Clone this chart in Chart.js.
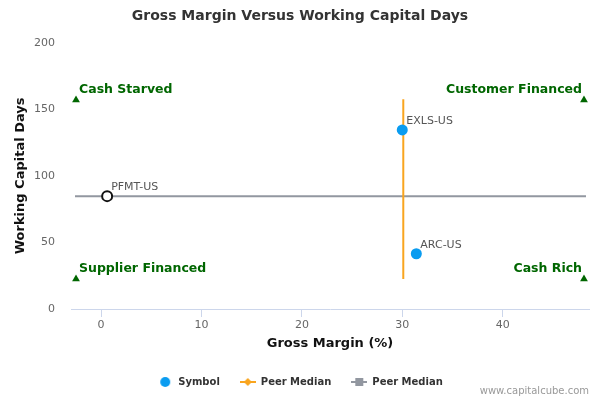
<!DOCTYPE html>
<html>
<head>
<meta charset="utf-8">
<script src="https://cdn.jsdelivr.net/npm/chart.js@4/dist/chart.umd.min.js"></script>
<style>
  html, body { margin: 0; padding: 0; background: #fff; }
  #wrap { width: 600px; height: 400px; }
</style>
</head>
<body>
<div id="wrap"><canvas id="gm-chart" width="600" height="400"></canvas></div>
<script>
  // values
  var symbolNames = ['EXLS-US', 'ARC-US', 'PFMT-US'];
  var grossMargin = [30.0, 31.4, 0.6];
  var workingCapitalDays = [134.5, 41.5, 84.8];

  var peerMedianMargin = 30.1;
  var peerMedianDays = 84.8;
  var medianLineX = [-2.6, 48.3];
  var medianLineY = [22.5, 157.5];

  var quadrantNames = ['Cash Starved', 'Customer Financed', 'Supplier Financed', 'Cash Rich'];
  var quadrantX = [-2.5, 48.1, -2.5, 48.1];
  var quadrantY = [157, 157, 22.5, 22.5];

  var xTicks = [0, 10, 20, 30, 40];
  var yTicks = [0, 50, 100, 150, 200];

  var blue = '#0a9cf0', orange = '#f9a51f', grey = '#9297a0', green = '#006600';

  // legend icons: line with a marker, like the original
  function legendIcon(color, shape) {
    var c = document.createElement('canvas');
    c.width = 16; c.height = 12;
    var g = c.getContext('2d');
    g.strokeStyle = color; g.fillStyle = color; g.lineWidth = 2;
    if (shape === 'circle') {
      g.beginPath(); g.arc(8, 6, 5, 0, Math.PI * 2); g.fill();
      return c;
    }
    g.beginPath(); g.moveTo(0, 6); g.lineTo(16, 6); g.stroke();
    g.beginPath();
    if (shape === 'diamond') {
      g.moveTo(8, 2); g.lineTo(12, 6); g.lineTo(8, 10); g.lineTo(4, 6);
    } else {
      g.rect(4, 2, 8, 8);
    }
    g.closePath(); g.fill();
    return c;
  }

  var symbolPoints = symbolNames.map((n, i) => ({ x: grossMargin[i], y: workingCapitalDays[i] }));
  var symbolFill = symbolNames.map((n, i) => i === 2 ? '#ffffff' : blue);
  var symbolBorder = symbolNames.map((n, i) => i === 2 ? '#111111' : blue);
  var symbolBorderWidth = symbolNames.map((n, i) => i === 2 ? 2 : 0);
  var symbolRadius = symbolNames.map((n, i) => i === 2 ? 5 : 5.5);

  var legendIcons = [legendIcon(blue, 'circle'), legendIcon(orange, 'diamond'), legendIcon(grey, 'square')];

  var labelPlugin = {
    id: 'pointLabels',
    afterDatasetsDraw(chart) {
      var ctx = chart.ctx;
      ctx.save();
      // ticker labels
      var meta = chart.getDatasetMeta(0);
      ctx.font = '11px "DejaVu Sans"';
      ctx.fillStyle = '#555555';
      ctx.textAlign = 'left';
      ctx.textBaseline = 'middle';
      meta.data.forEach((pt, i) => {
        ctx.fillText(symbolNames[i], pt.x + 4, pt.y - 9);
      });
      // quadrant labels
      var qm = chart.getDatasetMeta(3);
      ctx.font = 'bold 12.5px "DejaVu Sans"';
      ctx.fillStyle = green;
      qm.data.forEach((pt, i) => {
        var right = quadrantX[i] > 20;
        ctx.textAlign = right ? 'right' : 'left';
        ctx.fillText(quadrantNames[i], right ? pt.x - 2 : pt.x + 3, pt.y - 10);
      });
      ctx.restore();
    },
    afterDraw(chart) {
      var ctx = chart.ctx;
      ctx.save();
      ctx.font = '10px "DejaVu Sans"';
      ctx.fillStyle = '#999999';
      ctx.textAlign = 'right';
      ctx.textBaseline = 'middle';
      ctx.fillText('www.capitalcube.com', 589, 391);
      ctx.restore();
    }
  };

  var config = {
    type: 'scatter',
    data: {
      datasets: [
        {
          label: 'Symbol',
          data: symbolPoints,
          pointBackgroundColor: symbolFill,
          pointBorderColor: symbolBorder,
          pointBorderWidth: symbolBorderWidth,
          pointRadius: symbolRadius,
          pointHoverRadius: symbolRadius,
          backgroundColor: blue,
          borderColor: blue,
          order: 0
        },
        {
          label: 'Peer Median',
          type: 'line',
          data: medianLineY.map(y => ({ x: peerMedianMargin, y: y })),
          borderColor: orange,
          backgroundColor: orange,
          borderWidth: 2,
          pointRadius: 0,
          showLine: true,
          order: 2
        },
        {
          label: 'Peer Median',
          type: 'line',
          data: medianLineX.map(x => ({ x: x, y: peerMedianDays })),
          borderColor: grey,
          backgroundColor: grey,
          borderWidth: 2,
          pointRadius: 0,
          showLine: true,
          order: 3
        },
        {
          label: 'Quadrants',
          data: quadrantX.map((x, i) => ({ x: x, y: quadrantY[i] })),
          pointStyle: 'triangle',
          pointRadius: 4.5,
          pointBackgroundColor: green,
          pointBorderColor: green,
          pointBorderWidth: 0,
          order: 1
        }
      ]
    },
    options: {
      responsive: false,
      animation: false,
      events: [],
      layout: { padding: { left: 11, right: 11, top: 0, bottom: 3 } },
      scales: {
        x: {
          type: 'linear',
          min: -3,
          max: 48.6,
          afterFit: (scale) => { scale.height = 48; },
          afterBuildTicks: (scale) => { scale.ticks = xTicks.map(v => ({ value: v })); },
          ticks: { color: '#666666', padding: 2, font: { size: 11, family: 'DejaVu Sans' } },
          grid: { drawOnChartArea: false, drawTicks: true, tickLength: 8, color: '#ccd6eb' },
          border: { display: true, color: '#ccd6eb', width: 1 },
          title: {
            display: true,
            text: 'Gross Margin (%)',
            color: '#111111',
            font: { size: 13, weight: 'bold', family: 'DejaVu Sans' },
            padding: { top: 0, bottom: 6 }
          }
        },
        y: {
          type: 'linear',
          min: 0,
          max: 200,
          afterFit: (scale) => { scale.width = 60; },
          afterBuildTicks: (scale) => { scale.ticks = yTicks.map(v => ({ value: v })); },
          ticks: { color: '#666666', padding: 16, font: { size: 11, family: 'DejaVu Sans' } },
          grid: { display: false, drawTicks: false },
          border: { display: false },
          title: {
            display: true,
            text: 'Working Capital Days',
            color: '#111111',
            font: { size: 13, weight: 'bold', family: 'DejaVu Sans' },
            padding: { top: 2, bottom: 0 }
          }
        }
      },
      plugins: {
        title: {
          display: true,
          text: 'Gross Margin Versus Working Capital Days',
          color: '#333333',
          font: { size: 14, weight: 'bold', family: 'DejaVu Sans' },
          padding: { top: 8, bottom: 18 }
        },
        legend: {
          position: 'bottom',
          labels: {
            usePointStyle: true,
            pointStyleWidth: 16,
            boxWidth: 16,
            boxHeight: 10,
            color: '#333333',
            padding: 20,
            font: { size: 10, weight: 'bold', family: 'DejaVu Sans' },
            generateLabels: (chart) => {
              var items = Chart.defaults.plugins.legend.labels.generateLabels(chart);
              items.forEach((item) => {
                if (legendIcons[item.datasetIndex]) item.pointStyle = legendIcons[item.datasetIndex];
              });
              return items;
            },
            filter: (item) => item.datasetIndex !== 3
          }
        },
        tooltip: { enabled: false }
      }
    },
    plugins: [labelPlugin]
  };

  new Chart(document.getElementById('gm-chart'), config);
</script>
</body>
</html>
